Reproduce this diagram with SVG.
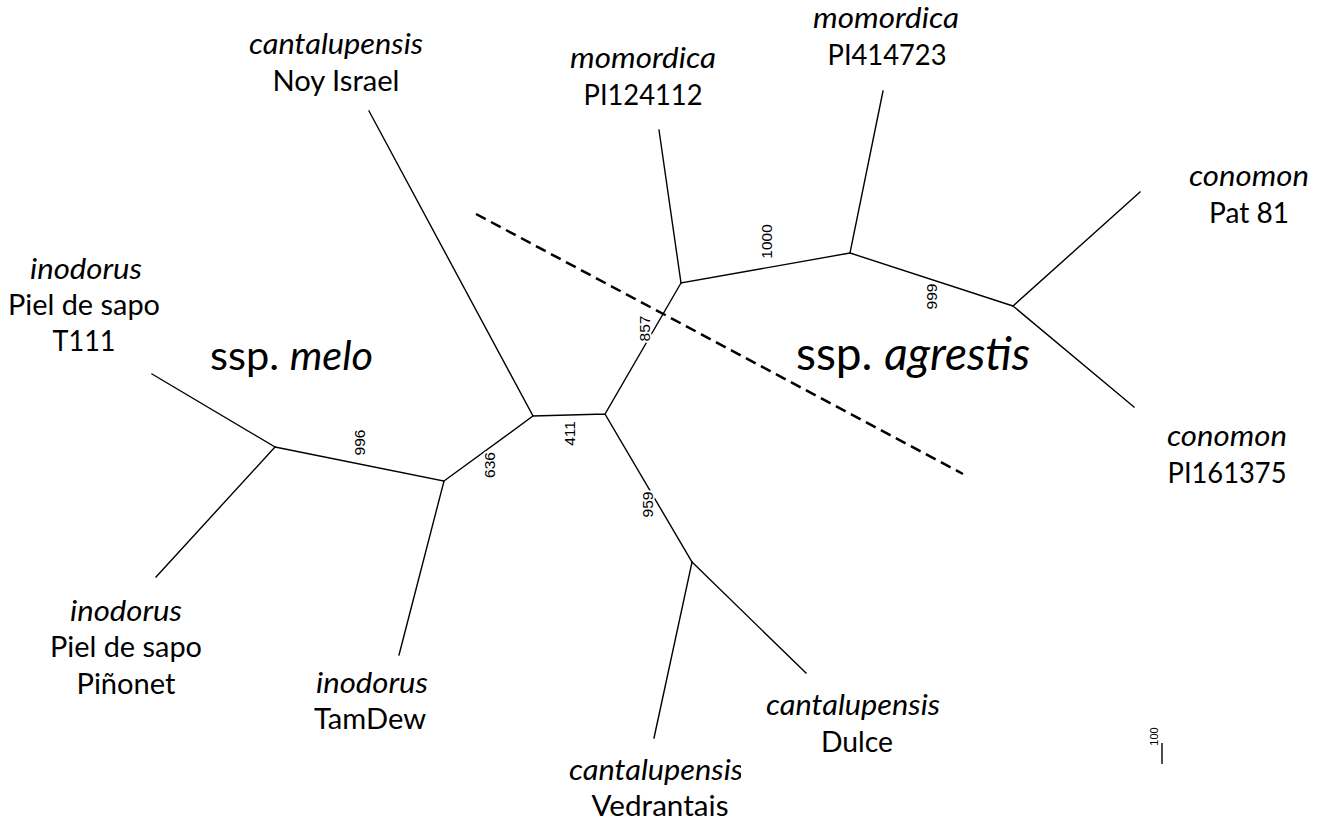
<svg xmlns="http://www.w3.org/2000/svg" width="1327" height="825" viewBox="0 0 1327 825">
<style>
.lbl{font-family:Lato,"Liberation Sans",sans-serif;font-size:28.5px;fill:#000;text-anchor:middle}
.it{font-style:italic}
.ssp{font-family:Lato,"Liberation Sans",sans-serif;font-size:41.5px;fill:#000}
.bs{font-family:"Liberation Sans",Arial,sans-serif;font-size:15.5px;fill:#000;text-anchor:middle;paint-order:stroke;stroke:#fff;stroke-width:4px;stroke-linejoin:round}
.br{fill:none;stroke:#000;stroke-width:1.4;stroke-linecap:square}
</style>
<defs>
<clipPath id="clipV"><rect x="0" y="0" width="741" height="825"/></clipPath>
</defs>
<rect width="1327" height="825" fill="#fff"/>
<g id="connectors">
<path class="br" d="M533,416 L605,414 M605,414 L681,283 M681,283 L850,253 M850,253 L1013,306 M533,416 L444,481 M444,481 L275,447 M605,414 L692,562"/>
<path class="br" d="M533,416 L369,111 M681,283 L659,130 M850,253 L883,91 M1013,306 L1140,192 M1013,306 L1134,407 M275,447 L152,374 M275,447 L156,577 M444,481 L399,655 M692,562 L654,738 M692,562 L806,673"/>
</g>
<g id="divider">
<line x1="476" y1="214" x2="963" y2="474" stroke="#000" stroke-width="2.5" stroke-dasharray="11 6"/>
</g>
<g id="bootstrap">
<text class="bs" transform="translate(365,442.5) rotate(-90)">996</text>
<text class="bs" transform="translate(495,465) rotate(-90)">636</text>
<text class="bs" transform="translate(575,433.5) rotate(-90)">411</text>
<text class="bs" transform="translate(650,328.5) rotate(-90)">857</text>
<text class="bs" transform="translate(772,241.5) rotate(-90)">1000</text>
<text class="bs" transform="translate(937,296.5) rotate(-90)">999</text>
<text class="bs" transform="translate(653,504.5) rotate(-90)">959</text>
</g>
<g id="scale">
<line x1="1162" y1="743" x2="1162" y2="764" stroke="#000" stroke-width="1.4"/>
<text class="bs" style="font-size:11px" transform="translate(1158,736.5) rotate(-90)">100</text>
</g>
<g id="node-noy">
<text class="lbl it" x="336" y="54" textLength="174" lengthAdjust="spacingAndGlyphs">cantalupensis</text>
<text class="lbl" x="336" y="91" textLength="127" lengthAdjust="spacingAndGlyphs">Noy Israel</text>
</g>
<g id="node-pi124112">
<text class="lbl it" x="643" y="68" textLength="146" lengthAdjust="spacingAndGlyphs">momordica</text>
<text class="lbl" x="643" y="105" textLength="119" lengthAdjust="spacingAndGlyphs">PI124112</text>
</g>
<g id="node-pi414723">
<text class="lbl it" x="886" y="28" textLength="146" lengthAdjust="spacingAndGlyphs">momordica</text>
<text class="lbl" x="887" y="65" textLength="119" lengthAdjust="spacingAndGlyphs">PI414723</text>
</g>
<g id="node-pat81">
<text class="lbl it" x="1249" y="186" textLength="120" lengthAdjust="spacingAndGlyphs">conomon</text>
<text class="lbl" x="1249" y="223" textLength="80" lengthAdjust="spacingAndGlyphs">Pat 81</text>
</g>
<g id="node-pi161375">
<text class="lbl it" x="1227" y="446" textLength="120" lengthAdjust="spacingAndGlyphs">conomon</text>
<text class="lbl" x="1227" y="483" textLength="119" lengthAdjust="spacingAndGlyphs">PI161375</text>
</g>
<g id="node-t111">
<text class="lbl it" x="86" y="279" textLength="112" lengthAdjust="spacingAndGlyphs">inodorus</text>
<text class="lbl" x="84" y="315" textLength="152" lengthAdjust="spacingAndGlyphs">Piel de sapo</text>
<text class="lbl" x="84" y="351" textLength="63" lengthAdjust="spacingAndGlyphs">T111</text>
</g>
<g id="node-pinonet">
<text class="lbl it" x="126" y="621" textLength="112" lengthAdjust="spacingAndGlyphs">inodorus</text>
<text class="lbl" x="126" y="657" textLength="152" lengthAdjust="spacingAndGlyphs">Piel de sapo</text>
<text class="lbl" x="126" y="694" textLength="99" lengthAdjust="spacingAndGlyphs">Piñonet</text>
</g>
<g id="node-tamdew">
<text class="lbl it" x="372" y="693" textLength="112" lengthAdjust="spacingAndGlyphs">inodorus</text>
<text class="lbl" x="370" y="729" textLength="112" lengthAdjust="spacingAndGlyphs">TamDew</text>
</g>
<g id="node-dulce">
<text class="lbl it" x="853" y="715" textLength="174" lengthAdjust="spacingAndGlyphs">cantalupensis</text>
<text class="lbl" x="857" y="752" textLength="72" lengthAdjust="spacingAndGlyphs">Dulce</text>
</g>
<g id="node-vedrantais">
<text class="lbl it" x="656" y="780" textLength="174" lengthAdjust="spacingAndGlyphs" clip-path="url(#clipV)">cantalupensis</text>
<text class="lbl" x="660" y="816" textLength="137" lengthAdjust="spacingAndGlyphs">Vedrantais</text>
</g>
<g id="group-melo">
<text class="ssp" x="210" y="370">ssp. <tspan class="it">melo</tspan></text>
</g>
<g id="group-agrestis">
<text class="ssp" x="796" y="370" style="font-size:46px">ssp. <tspan class="it">agrestis</tspan></text>
</g>
</svg>
